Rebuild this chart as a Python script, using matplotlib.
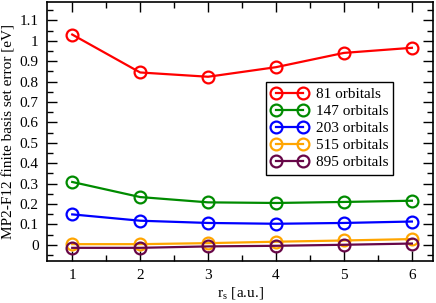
import matplotlib
matplotlib.use('Agg')
import matplotlib.pyplot as plt
from matplotlib.ticker import MultipleLocator

rs = [1, 2, 3, 4, 5, 6]
err_81 = [1.031, 0.845, 0.824, 0.871, 0.941, 0.966]
err_147 = [0.308, 0.234, 0.208, 0.205, 0.210, 0.216]
err_203 = [0.149, 0.118, 0.107, 0.103, 0.107, 0.114]
err_515 = [0.003, 0.003, 0.008, 0.015, 0.021, 0.028]
err_895 = [-0.015, -0.015, -0.008, -0.005, 0.000, 0.006]

labels = ['81 orbitals', '147 orbitals', '203 orbitals', '515 orbitals', '895 orbitals']
colors = ['#ff0000', '#008b00', '#0000ff', '#ffa500', '#670748']

plt.rcParams['font.family'] = ['Liberation Serif', 'DejaVu Serif']
plt.rcParams['mathtext.fontset'] = 'stix'


def draw_errors():
    fig = plt.figure(figsize=(4.36, 3.03), dpi=100)
    ax = fig.add_axes([0.108, 0.139, 0.885, 0.854])
    series = [err_81, err_147, err_203, err_515, err_895]
    for ys, lab, c in zip(series, labels, colors):
        ax.plot(rs, ys, color=c, lw=1.6, marker='o', ms=8.5, mfc='none',
                mec=c, mew=1.6, label=lab)
    ax.set_xlim(0.63, 6.31)
    ax.set_ylim(-0.079, 1.19)
    ax.xaxis.set_major_locator(MultipleLocator(1))
    ax.xaxis.set_minor_locator(MultipleLocator(0.5))
    ax.yaxis.set_minor_locator(MultipleLocator(0.05))
    ax.set_yticks([0, 0.1, 0.2, 0.3, 0.4, 0.5, 0.6, 0.7, 0.8, 0.9, 1, 1.1])
    ax.set_yticklabels(['0', '0.1', '0.2', '0.3', '0.4', '0.5', '0.6', '0.7',
                        '0.8', '0.9', '1', '1.1'])
    ax.tick_params(which='both', direction='in', top=True, right=True,
                   labelsize=11, width=1)
    ax.tick_params(which='major', length=7, pad=6)
    ax.tick_params(which='minor', length=4)
    for sp in ax.spines.values():
        sp.set_linewidth(1.2)
    ax.set_xlabel(r'r$_\mathregular{s}$ [a.u.]', fontsize=11, labelpad=2)
    ax.set_ylabel('MP2-F12 finite basis set error [eV]', fontsize=11, labelpad=3)
    leg = ax.legend(loc='upper left', bbox_to_anchor=(0.567, 0.691), fontsize=11,
                    fancybox=False, framealpha=1, edgecolor='black', numpoints=2,
                    handlelength=2.4, handletextpad=0.5, labelspacing=0.22,
                    borderpad=0.35, borderaxespad=0)
    leg.get_frame().set_linewidth(1)
    fig.savefig('out.png', dpi=100)


if __name__ == '__main__':
    draw_errors()
